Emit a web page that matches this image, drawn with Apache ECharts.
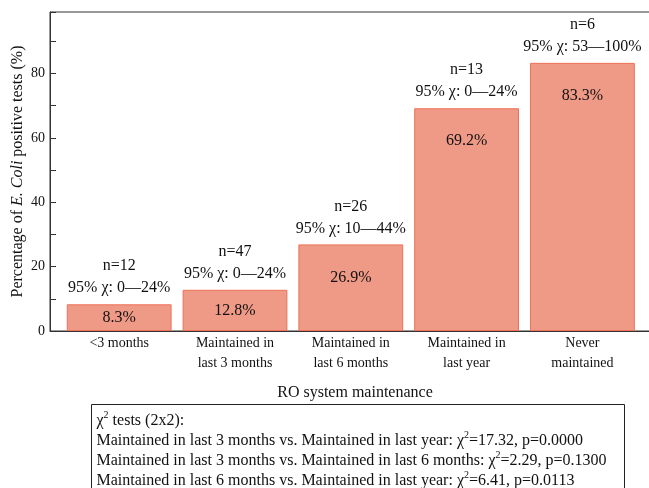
<!DOCTYPE html>
<html>
<head>
<meta charset="utf-8">
<script src="https://cdn.jsdelivr.net/npm/echarts@6/dist/echarts.min.js"></script>
<style>
  html, body { margin: 0; padding: 0; background: #fff; }
  #chart { width: 649px; height: 488px; }
</style>
</head>
<body>
<div id="chart"></div>
<script>
// Maintenance groups and share of E. coli positive tests
const categories = ['<3 months', 'Maintained in\nlast 3 months', 'Maintained in\nlast 6 months', 'Maintained in\nlast year', 'Never\nmaintained'];
const positivePct = [8.3, 12.8, 26.9, 69.2, 83.3];
const sampleSizes = [12, 47, 26, 13, 6];
const ciLow = [0, 0, 10, 0, 53];
const ciHigh = [24, 24, 44, 24, 100];
const yTicks = [0, 20, 40, 60, 80];
const chiTests = [
  ['Maintained in last 3 months', 'Maintained in last year', '17.32', '0.0000'],
  ['Maintained in last 3 months', 'Maintained in last 6 months', '2.29', '0.1300'],
  ['Maintained in last 6 months', 'Maintained in last year', '6.41', '0.0113']
];

const FONT = '"Liberation Serif", "DejaVu Serif", serif';
const TEXT = '#111';
const AXIS = '#333';
const Y_MAX = 99.1;
const PLOT_TOP = 12, PLOT_H = 319;

const chart = echarts.init(document.getElementById('chart'), null, { renderer: 'canvas' });

// bars shorter than this get their value centred inside
const pxPerUnit = PLOT_H / Y_MAX;

const barData = positivePct.map(v => ({
  value: v,
  label: (v * pxPerUnit < 64)
    ? { position: 'inside' }
    : { position: 'insideTop', distance: 25 }
}));

const boxLines = ['{t|χ}{s|2}{t| tests (2x2):}'].concat(
  chiTests.map(r => `{t|${r[0]} vs. ${r[1]}: χ}{s|2}{t|=${r[2]}, p=${r[3]}}`)
).join('\n');

const option = {
  animation: false,
  backgroundColor: '#fff',
  grid: [
    // frame with the y scale; right side runs past the canvas edge
    { left: 50, top: PLOT_TOP, width: 610, height: PLOT_H, show: true,
      borderColor: AXIS, borderWidth: 1, backgroundColor: 'transparent',
      containLabel: false, outerBoundsMode: 'none' },
    // category band holding the bars
    { left: 61.3, top: PLOT_TOP, width: 579, height: PLOT_H,
      containLabel: false, outerBoundsMode: 'none' }
  ],
  xAxis: [
    { gridIndex: 0, type: 'value', min: 0, max: 1,
      axisLine: { show: true, lineStyle: { color: AXIS, width: 1 } },
      axisTick: { show: false }, axisLabel: { show: false }, splitLine: { show: false },
      name: 'RO system maintenance', nameLocation: 'middle', nameGap: 53.5, nameMoveOverlap: false,
      nameTextStyle: { fontFamily: FONT, fontSize: 16, color: TEXT } },
    { gridIndex: 1, type: 'category', data: categories,
      axisLine: { show: false }, axisTick: { show: false },
      axisLabel: { fontFamily: FONT, fontSize: 14, color: TEXT, lineHeight: 20, margin: 2, interval: 0 } }
  ],
  yAxis: [
    { gridIndex: 0, type: 'value', min: 0, max: Y_MAX, interval: 10,
      axisLine: { show: true, lineStyle: { color: AXIS, width: 1 } },
      axisTick: { show: true, inside: true, length: 6, lineStyle: { color: AXIS } },
      splitLine: { show: false },
      axisLabel: { fontFamily: FONT, fontSize: 14, color: TEXT, margin: 5,
        formatter: v => (yTicks.indexOf(v) >= 0 ? String(v) : '') },
      name: 'Percentage of {i|E. Coli} positive tests (%)',
      nameLocation: 'middle', nameGap: 24, nameMoveOverlap: false,
      nameTextStyle: { fontFamily: FONT, fontSize: 16, color: TEXT,
        rich: { i: { fontFamily: FONT, fontSize: 16, fontStyle: 'italic', color: TEXT } } } },
    { gridIndex: 1, type: 'value', min: 0, max: Y_MAX, show: false }
  ],
  series: [
    {
      type: 'bar', xAxisIndex: 1, yAxisIndex: 1, data: barData,
      barWidth: '90.5%', barGap: '-100%',
      itemStyle: { color: '#EF9A86', borderColor: '#EE7158', borderWidth: 1 },
      label: { show: true, fontFamily: FONT, fontSize: 16, color: TEXT, lineHeight: 16,
        formatter: p => p.value.toFixed(1) + '%' },
      silent: true
    },
    {
      type: 'bar', xAxisIndex: 1, yAxisIndex: 1, data: positivePct,
      barWidth: '90.5%', barGap: '-100%',
      itemStyle: { color: 'rgba(0,0,0,0)' },
      label: { show: true, position: 'top', distance: 5,
        fontFamily: FONT, fontSize: 16, color: TEXT, lineHeight: 22,
        formatter: p => `n=${sampleSizes[p.dataIndex]}\n95% χ: ${ciLow[p.dataIndex]}—${ciHigh[p.dataIndex]}%` },
      silent: true, z: 3
    }
  ],
  graphic: [
    { type: 'rect', shape: { x: 91.5, y: 404.5, width: 533, height: 120 },
      style: { fill: '#fff', stroke: '#222', lineWidth: 1 }, z: 10 },
    { type: 'text', left: 96.5, top: 410.5, z: 11,
      style: { text: boxLines, fill: TEXT,
        rich: {
          t: { fontFamily: FONT, fontSize: 16, lineHeight: 20, fill: TEXT },
          s: { fontFamily: FONT, fontSize: 10, lineHeight: 20, fill: TEXT, verticalAlign: 'top', padding: [0, 0, 6, 0] }
        } } }
  ]
};

chart.setOption(option);
</script>
</body>
</html>
